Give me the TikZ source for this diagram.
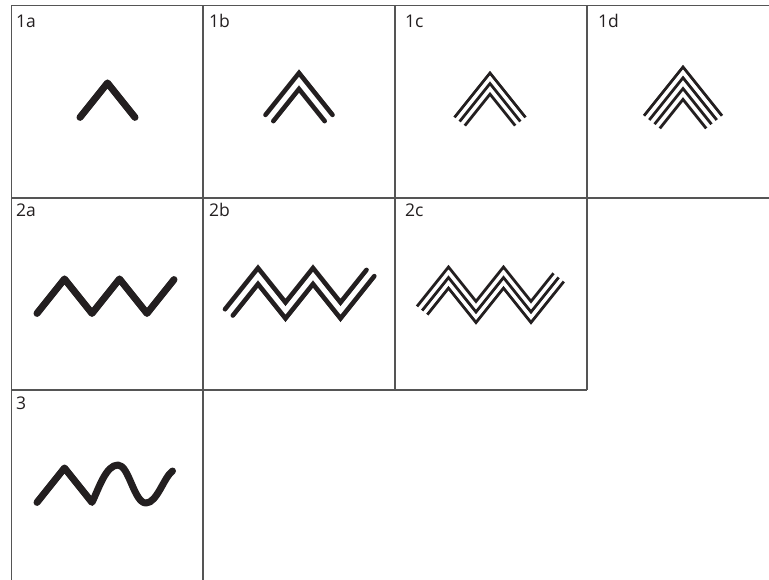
\documentclass[tikz,border=0pt]{standalone}
\usepackage{fontspec}
\setmainfont{Open Sans}
\definecolor{ink}{HTML}{231F20}
\definecolor{gridc}{HTML}{555555}
\tikzset{
  gridline/.style={draw=gridc, line width=1.3pt},
  lab/.style={anchor=base west, inner sep=0pt, font=\fontsize{17.5}{19}\selectfont, text=ink},
  heavy/.style={draw=ink, line width=7pt, line cap=round, line join=round},
  medium/.style={draw=ink, line width=4.6pt, line cap=round, line join=miter},
  fine/.style={draw=ink, line width=2.8pt, line cap=butt, line join=miter}
}
% chevron family: #1 style, #2 apex x, #3 apex y, #4 outer half width, #5 spacing d, #6 last index
\newcommand{\chevfam}[6]{%
  \foreach \k in {0,...,#6}{%
    \draw[#1] ({#2-(#4-\k*#5*0.7809)},{#3+\k*#5/0.6247+(#4-\k*#5*0.7809)*1.25})
      -- ({#2},{#3+\k*#5/0.6247})
      -- ({#2+(#4-\k*#5*0.7809)},{#3+\k*#5/0.6247+(#4-\k*#5*0.7809)*1.25});
  }%
}
\begin{document}
\begin{tikzpicture}[x=1pt,y=-1pt]
\useasboundingbox (0,0) rectangle (769,580);
% grid
\draw[gridline] (11,5.5) -- (769,5.5);
\draw[gridline] (11,198) -- (769,198);
\draw[gridline] (11,390) -- (587,390);
\draw[gridline] (11.5,5.5) -- (11.5,580);
\draw[gridline] (203,5.5) -- (203,580);
\draw[gridline] (395,5.5) -- (395,390);
\draw[gridline] (587,5.5) -- (587,390);
% labels
\node[lab] (l1a) at (16,28) {1a};
\node[lab] (l1b) at (209,28) {1b};
\node[lab] (l1c) at (405,28) {1c};
\node[lab] (l1d) at (598,28) {1d};
\node[lab] (l2a) at (16,217) {2a};
\node[lab] (l2b) at (209,217) {2b};
\node[lab] (l2c) at (405,217) {2c};
\node[lab] (l3) at (16,409) {3};
% 1a-1d
\chevfam{heavy}{107.5}{83}{27.5}{10}{0}
\chevfam{medium}{299}{73}{33.5}{10}{1}
\chevfam{fine}{490}{73}{35.5}{6.6}{2}
\chevfam{fine}{683}{67}{39}{6.75}{3}
% 2a
\draw[heavy] (37,313.4) -- (64.5,279) -- (92,313.4) -- (119.5,279) -- (147,313.4) -- (174,279.6);
% 2b
\foreach \k in {0,1}{%
  \draw[medium] ({225+\k*7.809},{309.25+\k*6.247})
    -- (258,{268+\k*16.008}) -- (285.5,{302.4+\k*16.008})
    -- (313,{268+\k*16.008}) -- (340.5,{302.4+\k*16.008})
    -- ({366.5+\k*7.809},{269.9+\k*6.247});
}
% 2c
\foreach \k in {0,1,2}{%
  \draw[fine] ({417+\k*5.154},{306.4+\k*4.123})
    -- (448.5,{267+\k*10.565}) -- (476,{301.4+\k*10.565})
    -- (503.5,{267+\k*10.565}) -- (531,{301.4+\k*10.565})
    -- ({553.5+\k*5.154},{273.3+\k*4.123});
}
% 3
\draw[heavy] (37,502.4) -- (64.5,468) -- (92,502.4)
  .. controls (99,488) and (106,465) .. (118,465)
  .. controls (129,465) and (134,503) .. (146,503)
  .. controls (157,503) and (164,477) .. (172.5,471);
\end{tikzpicture}
\end{document}
